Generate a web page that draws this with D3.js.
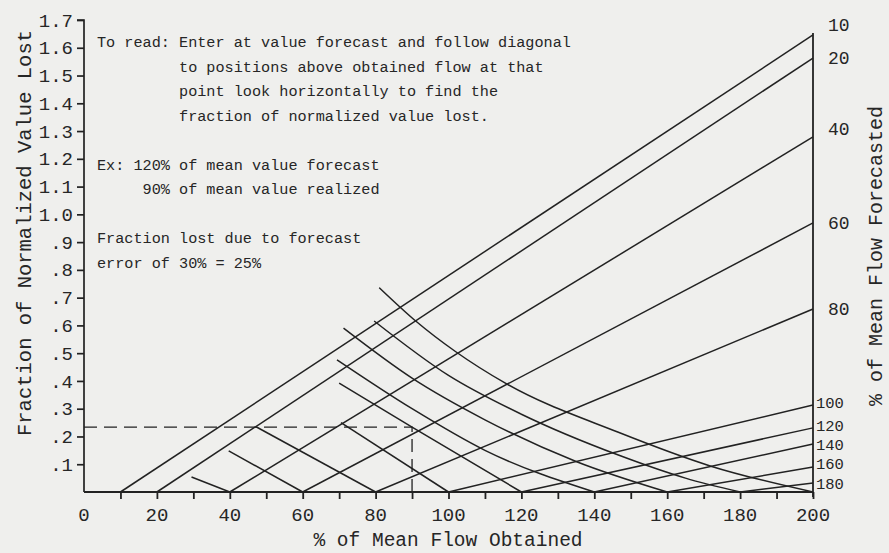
<!DOCTYPE html>
<html>
<head>
<meta charset="utf-8">
<script src="https://cdn.jsdelivr.net/npm/d3@7"></script>
<style>
  body { margin: 0; background: #efefed; }
  text { font-family: "Liberation Mono", "Courier New", monospace; fill: #262626; }
</style>
</head>
<body>
<div id="plot"></div>
<script>
// forecast values (% of mean flow) for the rising diagonals, and where each ends at 200
const forecasts = [10, 20, 40, 60, 80, 100, 120, 140, 160, 180];
const risingEnd = [1.646, 1.563, 1.279, 0.969, 0.659, 0.313, 0.231, 0.173, 0.09, 0.032];

// falling diagonals (obtained flow below forecast)
const fallForecasts = [40, 60, 80, 100, 120, 140, 160, 180, 200];
const fallPoints = [
  [[29.5, 0.054], [40, 0]],
  [[39.7, 0.148], [60, 0]],
  [[47.2, 0.235], [80, 0]],
  [[70.5, 0.25], [100, 0]],
  [[70, 0.392], [90, 0.234], [120, 0]],
  [[69.4, 0.476], [90, 0.3], [110, 0.15], [140, 0]],
  [[71.2, 0.59], [90, 0.41], [110, 0.26], [135, 0.11], [160, 0]],
  [[79.6, 0.616], [100, 0.42], [120, 0.28], [146.6, 0.133], [165, 0.05], [180, 0]],
  [[81, 0.736], [91, 0.616], [101.9, 0.506], [115.6, 0.392], [146.6, 0.215], [172, 0.093], [200, 0]]
];

const yTicks = [0.1, 0.2, 0.3, 0.4, 0.5, 0.6, 0.7, 0.8, 0.9, 1.0, 1.1, 1.2, 1.3, 1.4, 1.5, 1.6, 1.7];
const xTicks = d3.range(10, 201, 10);
const xLabels = [0, 20, 40, 60, 80, 100, 120, 140, 160, 180, 200];

// worked example: 120% forecast, 90% realized
const exampleObtained = 90, exampleLoss = 0.234;

const noteLines = [
  "To read: Enter at value forecast and follow diagonal",
  "         to positions above obtained flow at that",
  "         point look horizontally to find the",
  "         fraction of normalized value lost.",
  "",
  "Ex: 120% of mean value forecast",
  "     90% of mean value realized",
  "",
  "Fraction lost due to forecast",
  "error of 30% = 25%"
];

const width = 889, height = 553;
const ink = "#222";

const x = d3.scaleLinear().domain([0, 200]).range([84, 813]);
const y = d3.scaleLinear().domain([0, 1.7]).range([492, 20]);

const svg = d3.select("#plot").append("svg").attr("width", width).attr("height", height);
svg.append("rect").attr("width", width).attr("height", height).attr("fill", "#efefed");

const line = d3.line().x(d => x(d[0])).y(d => y(d[1]));
const curve = d3.line().x(d => x(d[0])).y(d => y(d[1])).curve(d3.curveMonotoneX);

// rising diagonals
svg.append("g").selectAll("path").data(forecasts).join("path")
  .attr("d", (f, i) => line([[f, 0], [200, risingEnd[i]]]))
  .attr("fill", "none").attr("stroke", ink).attr("stroke-width", 1.5);

// falling diagonals
svg.append("g").selectAll("path").data(fallPoints).join("path")
  .attr("d", d => curve(d))
  .attr("fill", "none").attr("stroke", ink).attr("stroke-width", 1.5);

// dashed example guide
svg.append("path")
  .attr("d", line([[0, exampleLoss], [exampleObtained, exampleLoss], [exampleObtained, 0]]))
  .attr("fill", "none").attr("stroke", ink).attr("stroke-width", 1.3)
  .attr("stroke-dasharray", "13,7");

// left axis
const yAxis = d3.axisLeft(y).tickValues(yTicks).tickSize(7).tickPadding(4)
  .tickFormat(d => d >= 1 ? d.toFixed(1) : d.toFixed(1).slice(1));
const gy = svg.append("g").attr("transform", `translate(${x(0)},0)`).call(yAxis);
gy.select(".domain").attr("d", `M-7,${y(1.7)}H0V${y(0)}`);
gy.selectAll("line, path").attr("stroke", ink).attr("stroke-width", 1.7);
gy.selectAll("text").attr("font-size", 19).attr("fill", "#262626");

// bottom axis
const xAxis = d3.axisBottom(x).tickValues(xTicks).tickSize(7).tickFormat("");
const gx = svg.append("g").attr("transform", `translate(0,${y(0)})`).call(xAxis);
gx.select(".domain").attr("d", `M${x(0)},0H${x(200)}`);
gx.selectAll("line, path").attr("stroke", ink).attr("stroke-width", 1.8);
svg.append("g").selectAll("text").data(xLabels).join("text")
  .attr("x", d => x(d)).attr("y", 521)
  .attr("text-anchor", "middle").attr("font-size", 19)
  .text(d => d);

// right axis with forecast labels
svg.append("line")
  .attr("x1", x(200)).attr("x2", x(200))
  .attr("y1", y(risingEnd[0]) - 2).attr("y2", y(0) + 5)
  .attr("stroke", ink).attr("stroke-width", 1.8);
const labelNudge = { 10: -10, 40: -8, 100: -3, 120: -2, 140: 1, 160: -3 };
svg.append("g").selectAll("text").data(forecasts).join("text")
  .attr("x", f => f < 100 ? x(200) + 15 : x(200) + 3)
  .attr("y", (f, i) => y(risingEnd[i]) + (labelNudge[f] || 0))
  .attr("dy", "0.35em").attr("font-size", f => f < 100 ? 18 : 15.5)
  .text(f => f);

// axis titles
svg.append("text")
  .attr("transform", `translate(24,233) rotate(-90)`)
  .attr("text-anchor", "middle").attr("dy", "0.35em").attr("font-size", 20.5)
  .text("Fraction of Normalized Value Lost");
svg.append("text")
  .attr("transform", `translate(875,256) rotate(-90)`)
  .attr("text-anchor", "middle").attr("dy", "0.35em").attr("font-size", 20)
  .text("% of Mean Flow Forecasted");
svg.append("text")
  .attr("x", 448).attr("y", 546).attr("text-anchor", "middle").attr("font-size", 19.5)
  .text("% of Mean Flow Obtained");

// reading note
svg.append("g").selectAll("text").data(noteLines).join("text")
  .attr("x", 97).attr("y", (d, i) => 47 + i * 24.5)
  .attr("font-size", 15.2)
  .attr("xml:space", "preserve").style("white-space", "pre")
  .text(d => d);
</script>
</body>
</html>
